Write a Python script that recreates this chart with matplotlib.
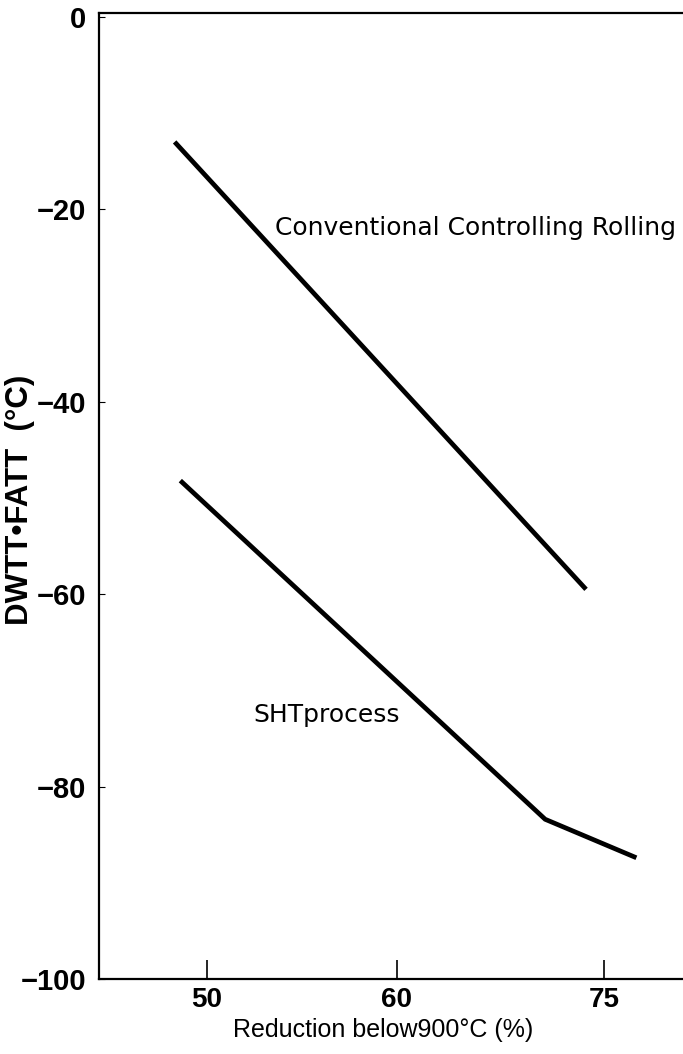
import matplotlib
matplotlib.use("Agg")
import matplotlib.pyplot as plt

# reduction below 900C (%) vs DWTT FATT (C)
conv_x = [48.3, 69.95]
conv_y = [-13.0, -59.5]
sht_x = [48.6, 67.8, 72.6]
sht_y = [-48.2, -83.4, -87.4]

xtick_pos = [50, 60, 70.9]
xtick_labels = ["50", "60", "75"]
ytick_pos = [0, -20, -40, -60, -80, -100]
ytick_labels = ["0", "\u221220", "\u221240", "\u221260", "\u221280", "\u2212100"]

arial = ["Liberation Sans", "DejaVu Sans"]
label_font = ["DejaVu Sans"]

fig = plt.figure(figsize=(6.83, 10.54), dpi=100)
ax = fig.add_axes([99 / 683, 1 - 979 / 1054, 594 / 683, (979 - 13) / 1054])

ax.plot(conv_x, conv_y, color="black", lw=3.4, solid_capstyle="butt")
ax.plot(sht_x, sht_y, color="black", lw=3.4, solid_capstyle="butt", solid_joinstyle="miter")

ax.set_xlim(44.32, 75.58)
ax.set_ylim(-100, 0.4)
ax.spines["right"].set_visible(False)
for s in ("left", "top", "bottom"):
    ax.spines[s].set_linewidth(1.6)

ax.set_xticks(xtick_pos)
ax.set_xticklabels(xtick_labels, family=arial, fontweight="bold", fontsize=20)
ax.tick_params(axis="x", direction="in", length=14, width=1.2, pad=6)
ax.set_yticks(ytick_pos)
ax.set_yticklabels(ytick_labels, family=arial, fontweight="bold", fontsize=21)
ax.tick_params(axis="y", direction="in", length=4, width=0.8, pad=9)

ax.set_xlabel("Reduction below900\u00b0C (%)", family=arial, fontsize=18)
ax.xaxis.set_label_coords(0.478, -0.04)
ax.set_ylabel("DWTT\u2022FATT  (\u00b0C)", family=arial, fontweight="bold", fontsize=22.5)
ax.yaxis.set_label_coords(-0.107, 0.496)

ax.text(53.58, -21.9, "Conventional Controlling Rolling", family=label_font,
        fontsize=18, va="center", ha="left", clip_on=False)
ax.text(52.42, -72.6, "SHTprocess", family=label_font, fontsize=18,
        va="center", ha="left")

fig.savefig("out.png", dpi=100)
